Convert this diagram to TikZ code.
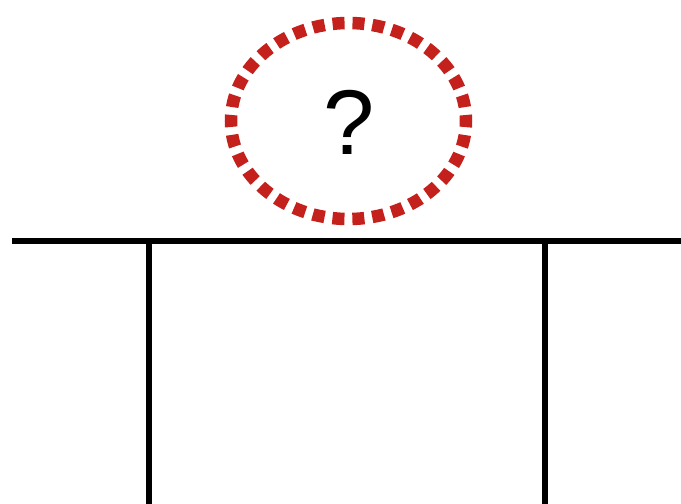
\documentclass[tikz,border=0pt]{standalone}
\usepackage{fontspec}
\setmainfont{Liberation Sans}
\usetikzlibrary{shapes.geometric}
\definecolor{dotred}{RGB}{196,32,28}
\tikzset{
  wire/.style={line width=5.5pt, black},
  dotring/.style={ellipse, draw=dotred, line width=12.5pt, dash pattern=on 12pt off 7.95pt, dash phase=6pt,
    minimum width=235pt, minimum height=196pt, inner sep=0pt, outer sep=0pt},
}
\begin{document}
\begin{tikzpicture}[x=1pt,y=-1pt]
\useasboundingbox (0,0) rectangle (681,504);
\node[dotring] (ring) at (348.5,121) {};
\node[font=\fontsize{92}{92}\selectfont, inner sep=0pt] (qm) at (349,122) {?};
\coordinate (hl) at (12,241);
\coordinate (hr) at (681,241);
\coordinate (v1t) at (149,241);
\coordinate (v1b) at (149,504);
\coordinate (v2t) at (545,241);
\coordinate (v2b) at (545,504);
\draw[wire] (hl) -- (hr);
\draw[wire] (v1t) -- (v1b);
\draw[wire] (v2t) -- (v2b);
\end{tikzpicture}
\end{document}
